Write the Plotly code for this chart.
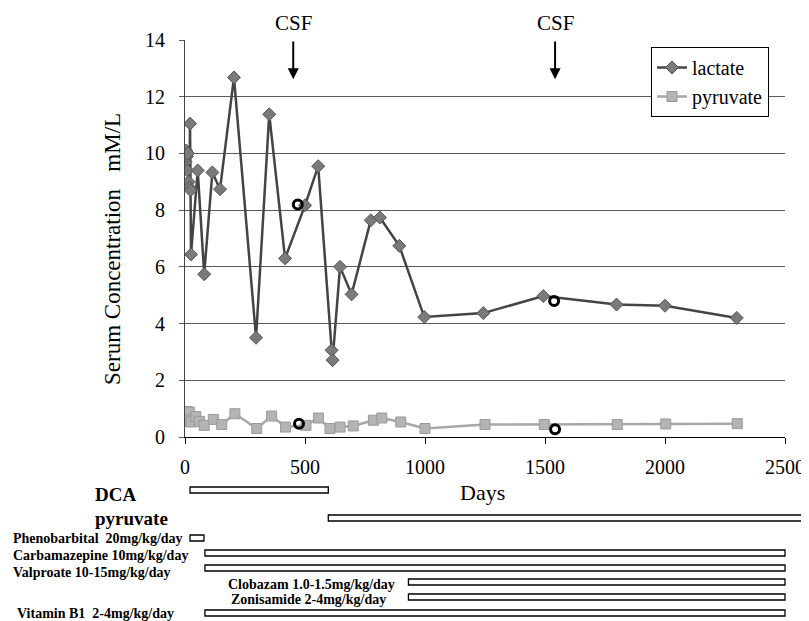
import plotly.graph_objects as go

# ---------------- data ----------------
lactate_days = [0, 3, 5, 8, 10, 12, 15, 18, 21, 23, 25, 53, 80, 114, 146, 204, 296, 351, 417,
                500, 555, 611, 615, 646, 694, 774, 812, 893, 997, 1243, 1493, 1798, 2000, 2299]
lactate_vals = [10.0, 9.7, 10.1, 9.9, 9.4, 10.0, 9.0, 8.8, 11.05, 8.7, 6.44, 9.4, 5.74, 9.33, 8.74,
                12.68, 3.5, 11.38, 6.30, 8.17, 9.55, 3.06, 2.71, 6.0, 5.03, 7.64, 7.74, 6.74, 4.23,
                4.37, 4.97, 4.67, 4.63, 4.2]

pyruvate_days = [0, 3, 6, 9, 12, 15, 18, 22, 25, 45, 60, 80, 118, 153, 208, 299, 361, 419, 504,
                 556, 604, 646, 701, 785, 820, 899, 1000, 1250, 1497, 1801, 2003, 2301]
pyruvate_vals = [0.7, 0.85, 0.6, 0.9, 0.55, 0.75, 0.88, 0.6, 0.53, 0.72, 0.55, 0.41, 0.62, 0.44,
                 0.82, 0.30, 0.74, 0.35, 0.41, 0.67, 0.30, 0.35, 0.39, 0.59, 0.67, 0.53, 0.30, 0.44,
                 0.44, 0.44, 0.46, 0.47]

csf_days = [470, 1538, 475, 1542]
csf_vals = [8.2, 4.8, 0.47, 0.27]
csf_arrow_days = [451, 1542]

drug_names = ["DCA", "pyruvate", "Phenobarbital  20mg/kg/day", "Carbamazepine 10mg/kg/day",
              "Valproate 10-15mg/kg/day", "Clobazam 1.0-1.5mg/kg/day", "Zonisamide 2-4mg/kg/day",
              "Vitamin B1  2-4mg/kg/day"]
drug_start = [21, 597, 21, 83, 83, 931, 931, 83]
drug_end = [597, 2570, 79, 2500, 2500, 2500, 2500, 2500]

x_ticks = [0, 500, 1000, 1500, 2000, 2500]
y_ticks = [0, 2, 4, 6, 8, 10, 12, 14]

# ---------------- layout helpers ----------------
# the page body has an 8px margin, so the figure is sized to fill the rest of the window
OFF = 8
SW, SH = 809, 621
W, H = SW - OFF, SH - OFF
FONT = "Liberation Serif, Times New Roman, serif"
fx = lambda p: (p - OFF) / W          # screen pixel -> paper x
fy = lambda p: 1 - (p - OFF) / H      # screen pixel -> paper y

# drug row centers (screen pixels) and label placement
row_y = [490, 518, 538, 553, 568, 582, 597, 613]
label_x = [93, 93, 11, 11, 11, 397, 388, 15]
label_anchor = ["left", "left", "left", "left", "left", "right", "right", "left"]
label_size = [19, 19, 14, 14, 14, 14, 14, 14]
label_dy = [4, 0, 0, 2, 4, 2, 2, 0]

fig = go.Figure()

fig.add_trace(go.Scatter(
    x=lactate_days, y=lactate_vals, name="lactate", mode="lines+markers",
    line=dict(color="#444444", width=2.5),
    marker=dict(symbol="diamond", size=10, color="#7a7a7a", line=dict(color="#555555", width=1)),
))
fig.add_trace(go.Scatter(
    x=pyruvate_days, y=pyruvate_vals, name="pyruvate", mode="lines+markers",
    line=dict(color="#a8a8a8", width=2.5),
    marker=dict(symbol="square", size=10, color="#b4b4b4", line=dict(color="#9a9a9a", width=1)),
))
fig.add_trace(go.Scatter(
    x=csf_days, y=csf_vals, mode="markers", showlegend=False,
    marker=dict(symbol="circle-open", size=9, color="black", line=dict(color="black", width=3)),
))

for name, s, e, yy in zip(drug_names, drug_start, drug_end, row_y):
    fig.add_trace(go.Bar(
        orientation="h", y=[yy], x=[e - s], base=[s], width=6,
        xaxis="x2", yaxis="y2", showlegend=False,
        marker=dict(color="white", line=dict(color="black", width=1.3)),
    ))

annotations = []
for name, lx, anc, sz, yy, dy in zip(drug_names, label_x, label_anchor, label_size, row_y, label_dy):
    annotations.append(dict(
        text="<b>%s</b>" % name, xref="paper", yref="y2", x=fx(lx), y=yy + dy,
        xanchor=anc, yanchor="middle", showarrow=False,
        font=dict(family=FONT, size=sz, color="black"),
    ))

for d in csf_arrow_days:
    annotations.append(dict(
        text="", x=d, y=12.62, ax=d, ay=14.0, xref="x", yref="y", axref="x", ayref="y",
        showarrow=True, arrowhead=2, arrowsize=1.1, arrowwidth=2, arrowcolor="black",
    ))
    annotations.append(dict(
        text="CSF", x=d, y=14.0, xref="x", yref="y", yanchor="bottom", xanchor="center",
        showarrow=False, yshift=3, font=dict(family=FONT, size=21, color="black"),
    ))

annotations.append(dict(
    text="Days", xref="paper", yref="paper", x=fx(482), y=fy(492),
    xanchor="center", yanchor="middle", showarrow=False,
    font=dict(family=FONT, size=22, color="black"),
))
annotations.append(dict(
    text="Serum Concentration   mM/L", xref="paper", yref="paper", x=fx(112), y=fy(249),
    xanchor="center", yanchor="middle", showarrow=False, textangle=-90,
    font=dict(family=FONT, size=23, color="black"),
))

fig.update_layout(
    width=W, height=H, margin=dict(l=0, r=0, t=0, b=0, autoexpand=False),
    paper_bgcolor="white", plot_bgcolor="white",
    font=dict(family=FONT, size=20, color="black"),
    xaxis=dict(domain=[fx(185), fx(785)], range=[0, 2500], tickvals=x_ticks, automargin=False,
               showgrid=False, zeroline=False, showline=True, linecolor="black", linewidth=1,
               ticks="outside", ticklen=6, tickcolor="black", ticklabelstandoff=6,
               tickfont=dict(family=FONT, size=20), anchor="y"),
    yaxis=dict(domain=[fy(437), fy(40)], range=[0, 14], tickvals=y_ticks, automargin=False,
               showgrid=True, gridcolor="#5a5a5a", gridwidth=1, zeroline=False,
               showline=True, linecolor="#444", linewidth=1,
               ticks="outside", ticklen=5, tickcolor="#5a5a5a", ticklabelstandoff=10,
               tickfont=dict(family=FONT, size=20), anchor="x"),
    xaxis2=dict(domain=[fx(185), fx(805)], range=[0, 2500 * 620 / 600], visible=False,
                anchor="y2", fixedrange=True, automargin=False),
    yaxis2=dict(domain=[0, fy(480)], range=[SH, 480], visible=False, anchor="x2",
                automargin=False),
    barmode="overlay",
    legend=dict(x=fx(651), y=fy(47), xanchor="left", yanchor="top",
                bgcolor="white", bordercolor="black", borderwidth=1,
                font=dict(family=FONT, size=20, color="black"), itemwidth=30,
                entrywidth=128, entrywidthmode="pixels",
                tracegroupgap=0),
    annotations=annotations,
    showlegend=True,
)

fig.write_html("out.html")
